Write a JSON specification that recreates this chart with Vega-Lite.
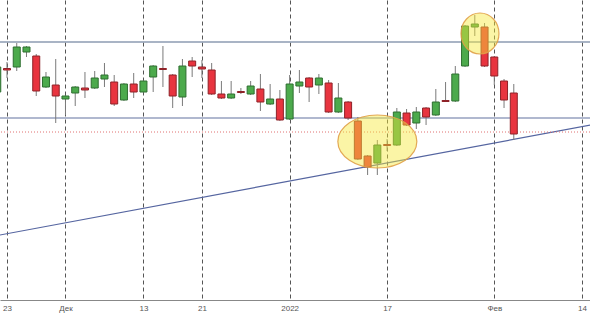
{
  "$schema": "https://vega.github.io/schema/vega-lite/v6.json",
  "width": 590,
  "height": 300,
  "autosize": {"type": "none"},
  "padding": {"left": 0, "top": 0, "right": 0, "bottom": 24},
  "background": "white",
  "config": {"view": {"stroke": null}},
  "datasets": {
    "candles": [
      {"i": 0, "o": 208, "h": 240, "l": 204, "c": 233},
      {"i": 1, "o": 231.5, "h": 238, "l": 222, "c": 230},
      {"i": 2, "o": 233, "h": 257, "l": 229, "c": 253},
      {"i": 3, "o": 248, "h": 254, "l": 243, "c": 253},
      {"i": 4, "o": 244, "h": 246, "l": 204, "c": 209},
      {"i": 5, "o": 213, "h": 228, "l": 212, "c": 223},
      {"i": 6, "o": 215, "h": 241, "l": 177, "c": 204},
      {"i": 7, "o": 201, "h": 205, "l": 185, "c": 204},
      {"i": 8, "o": 207, "h": 214, "l": 194, "c": 213},
      {"i": 9, "o": 212, "h": 228, "l": 202, "c": 210},
      {"i": 10, "o": 212, "h": 229, "l": 211, "c": 222},
      {"i": 11, "o": 221, "h": 237, "l": 213, "c": 225},
      {"i": 12, "o": 218, "h": 225, "l": 194, "c": 196},
      {"i": 13, "o": 200, "h": 217, "l": 199, "c": 216},
      {"i": 14, "o": 216, "h": 227, "l": 202, "c": 208},
      {"i": 15, "o": 208, "h": 220, "l": 207, "c": 219},
      {"i": 16, "o": 223, "h": 235, "l": 208, "c": 234},
      {"i": 17, "o": 231.5, "h": 254, "l": 213, "c": 230.5},
      {"i": 18, "o": 225, "h": 226, "l": 192, "c": 204},
      {"i": 19, "o": 203, "h": 241, "l": 194, "c": 234},
      {"i": 20, "o": 239, "h": 243, "l": 223, "c": 234},
      {"i": 21, "o": 233, "h": 240, "l": 222, "c": 231},
      {"i": 22, "o": 230, "h": 237, "l": 205, "c": 206},
      {"i": 23, "o": 206, "h": 219, "l": 201, "c": 202},
      {"i": 24, "o": 202, "h": 219, "l": 201, "c": 206},
      {"i": 25, "o": 208.5, "h": 212, "l": 206, "c": 207.5},
      {"i": 26, "o": 206, "h": 219, "l": 205, "c": 214},
      {"i": 27, "o": 211, "h": 226, "l": 189, "c": 198},
      {"i": 28, "o": 196, "h": 216, "l": 195, "c": 201},
      {"i": 29, "o": 201, "h": 210, "l": 179, "c": 180},
      {"i": 30, "o": 181, "h": 225, "l": 180, "c": 216},
      {"i": 31, "o": 214, "h": 230, "l": 207, "c": 218},
      {"i": 32, "o": 222, "h": 223, "l": 198, "c": 213},
      {"i": 33, "o": 215, "h": 226, "l": 206, "c": 222},
      {"i": 34, "o": 217, "h": 220, "l": 187, "c": 188},
      {"i": 35, "o": 188, "h": 217, "l": 187, "c": 202},
      {"i": 36, "o": 198, "h": 199, "l": 180, "c": 182},
      {"i": 37, "o": 179, "h": 183, "l": 140, "c": 141},
      {"i": 38, "o": 144, "h": 145, "l": 125, "c": 133},
      {"i": 39, "o": 137, "h": 160, "l": 125, "c": 155},
      {"i": 40, "o": 155.5, "h": 161, "l": 149, "c": 154.5},
      {"i": 41, "o": 155, "h": 192, "l": 154, "c": 188},
      {"i": 42, "o": 187, "h": 191, "l": 174, "c": 175},
      {"i": 43, "o": 177, "h": 193, "l": 171, "c": 188},
      {"i": 44, "o": 192, "h": 193, "l": 175, "c": 183},
      {"i": 45, "o": 185, "h": 211, "l": 184, "c": 198},
      {"i": 46, "o": 199.5, "h": 218, "l": 198, "c": 198.5},
      {"i": 47, "o": 199, "h": 234, "l": 198, "c": 226},
      {"i": 48, "o": 234, "h": 275, "l": 233, "c": 274},
      {"i": 49, "o": 273, "h": 285, "l": 264, "c": 276},
      {"i": 50, "o": 273, "h": 277, "l": 233, "c": 234},
      {"i": 51, "o": 243, "h": 244, "l": 215, "c": 224},
      {"i": 52, "o": 219, "h": 221, "l": 192, "c": 200},
      {"i": 53, "o": 207, "h": 216, "l": 160, "c": 166}
    ],
    "trend": [
      {"i": 0, "p": 64.5},
      {"i": 61, "p": 175.1}
    ]
  },
  "layer": [
    {
      "data": {"name": "trend"},
      "mark": {"type": "line", "color": "#5565a0", "strokeWidth": 1.2, "clip": true},
      "encoding": {
        "x": {"field": "i", "type": "quantitative", "scale": {"domain": [0.282, 60.82], "nice": false, "zero": false, "padding": 0},
          "axis": {"values": [1, 7, 15, 21, 30, 40, 51, 60],
            "labelExpr": "datum.value==1?'23':datum.value==7?'Дек':datum.value==15?'13':datum.value==21?'21':datum.value==30?'2022':datum.value==40?'17':datum.value==51?'Фев':'14'",
            "grid": true, "gridDash": [4, 3], "gridColor": "#555", "gridWidth": 1, "gridOpacity": 1,
            "ticks": false, "domain": true, "domainColor": "#888", "domainWidth": 1,
            "labelFont": "Liberation Sans", "labelFontSize": 8, "labelColor": "#555", "labelPadding": 4,
            "labelFlush": false, "labelOverlap": false, "title": null}},
        "y": {"field": "p", "type": "quantitative", "scale": {"domain": [0, 300], "nice": false, "zero": false, "padding": 0}, "axis": null}
      }
    },
    {
      "data": {"values": [{"p": 258}]},
      "mark": {"type": "rule", "color": "#8c9bb2", "strokeWidth": 1.6},
      "encoding": {"y": {"field": "p", "type": "quantitative", "scale": {"domain": [0, 300], "nice": false, "zero": false, "padding": 0}, "axis": null}}
    },
    {
      "data": {"values": [{"p": 182}]},
      "mark": {"type": "rule", "color": "#6273a0", "strokeWidth": 1.2},
      "encoding": {"y": {"field": "p", "type": "quantitative", "scale": {"domain": [0, 300], "nice": false, "zero": false, "padding": 0}, "axis": null}}
    },
    {
      "data": {"values": [{"p": 168}]},
      "mark": {"type": "rule", "color": "#e07070", "strokeWidth": 1, "strokeDash": [1, 2]},
      "encoding": {"y": {"field": "p", "type": "quantitative", "scale": {"domain": [0, 300], "nice": false, "zero": false, "padding": 0}, "axis": null}}
    },
    {
      "data": {"name": "candles"},
      "mark": {"type": "rule", "color": "#7a7a7a", "strokeWidth": 1, "clip": true},
      "encoding": {
        "x": {"field": "i", "type": "quantitative", "scale": {"domain": [0.282, 60.82], "nice": false, "zero": false, "padding": 0},
          "axis": {"values": [1, 7, 15, 21, 30, 40, 51, 60],
            "labelExpr": "datum.value==1?'23':datum.value==7?'Дек':datum.value==15?'13':datum.value==21?'21':datum.value==30?'2022':datum.value==40?'17':datum.value==51?'Фев':'14'",
            "grid": true, "gridDash": [4, 3], "gridColor": "#555", "gridWidth": 1, "gridOpacity": 1,
            "ticks": false, "domain": true, "domainColor": "#888", "domainWidth": 1,
            "labelFont": "Liberation Sans", "labelFontSize": 8, "labelColor": "#555", "labelPadding": 4,
            "labelFlush": false, "labelOverlap": false, "title": null}},
        "y": {"field": "l", "type": "quantitative", "scale": {"domain": [0, 300], "nice": false, "zero": false, "padding": 0}, "axis": null},
        "y2": {"field": "h"}
      }
    },
    {
      "data": {"name": "candles"},
      "mark": {"type": "bar", "size": 7, "strokeWidth": 1, "clip": true},
      "encoding": {
        "x": {"field": "i", "type": "quantitative", "scale": {"domain": [0.282, 60.82], "nice": false, "zero": false, "padding": 0},
          "axis": {"values": [1, 7, 15, 21, 30, 40, 51, 60],
            "labelExpr": "datum.value==1?'23':datum.value==7?'Дек':datum.value==15?'13':datum.value==21?'21':datum.value==30?'2022':datum.value==40?'17':datum.value==51?'Фев':'14'",
            "grid": true, "gridDash": [4, 3], "gridColor": "#555", "gridWidth": 1, "gridOpacity": 1,
            "ticks": false, "domain": true, "domainColor": "#888", "domainWidth": 1,
            "labelFont": "Liberation Sans", "labelFontSize": 8, "labelColor": "#555", "labelPadding": 4,
            "labelFlush": false, "labelOverlap": false, "title": null}},
        "y": {"field": "o", "type": "quantitative", "scale": {"domain": [0, 300], "nice": false, "zero": false, "padding": 0}, "axis": null},
        "y2": {"field": "c"},
        "fill": {"condition": {"test": "datum.c > datum.o", "value": "#4caa4c"}, "value": "#e8343f"},
        "stroke": {"condition": {"test": "datum.c > datum.o", "value": "#2e6e30"}, "value": "#8e2228"}
      }
    },
    {
      "data": {"values": [{"i": 39, "p": 158.5}]},
      "mark": {"type": "point", "shape": "M-1,0A1,0.671,0,1,0,1,0A1,0.671,0,1,0,-1,0Z", "size": 6241, "filled": true,
        "fill": "#f6e83a", "fillOpacity": 0.45, "stroke": "#e0a048", "strokeWidth": 1.2, "strokeOpacity": 0.9},
      "encoding": {
        "x": {"field": "i", "type": "quantitative", "scale": {"domain": [0.282, 60.82], "nice": false, "zero": false, "padding": 0},
          "axis": {"values": [1, 7, 15, 21, 30, 40, 51, 60],
            "labelExpr": "datum.value==1?'23':datum.value==7?'Дек':datum.value==15?'13':datum.value==21?'21':datum.value==30?'2022':datum.value==40?'17':datum.value==51?'Фев':'14'",
            "grid": true, "gridDash": [4, 3], "gridColor": "#555", "gridWidth": 1, "gridOpacity": 1,
            "ticks": false, "domain": true, "domainColor": "#888", "domainWidth": 1,
            "labelFont": "Liberation Sans", "labelFontSize": 8, "labelColor": "#555", "labelPadding": 4,
            "labelFlush": false, "labelOverlap": false, "title": null}},
        "y": {"field": "p", "type": "quantitative", "scale": {"domain": [0, 300], "nice": false, "zero": false, "padding": 0}, "axis": null}
      }
    },
    {
      "data": {"values": [{"i": 49.53, "p": 266.5}]},
      "mark": {"type": "point", "shape": "M-1,0A1,1.08,0,1,0,1,0A1,1.08,0,1,0,-1,0Z", "size": 1444, "filled": true,
        "fill": "#f6e83a", "fillOpacity": 0.45, "stroke": "#e0a048", "strokeWidth": 1.2, "strokeOpacity": 0.9},
      "encoding": {
        "x": {"field": "i", "type": "quantitative", "scale": {"domain": [0.282, 60.82], "nice": false, "zero": false, "padding": 0},
          "axis": {"values": [1, 7, 15, 21, 30, 40, 51, 60],
            "labelExpr": "datum.value==1?'23':datum.value==7?'Дек':datum.value==15?'13':datum.value==21?'21':datum.value==30?'2022':datum.value==40?'17':datum.value==51?'Фев':'14'",
            "grid": true, "gridDash": [4, 3], "gridColor": "#555", "gridWidth": 1, "gridOpacity": 1,
            "ticks": false, "domain": true, "domainColor": "#888", "domainWidth": 1,
            "labelFont": "Liberation Sans", "labelFontSize": 8, "labelColor": "#555", "labelPadding": 4,
            "labelFlush": false, "labelOverlap": false, "title": null}},
        "y": {"field": "p", "type": "quantitative", "scale": {"domain": [0, 300], "nice": false, "zero": false, "padding": 0}, "axis": null}
      }
    }
  ]
}
